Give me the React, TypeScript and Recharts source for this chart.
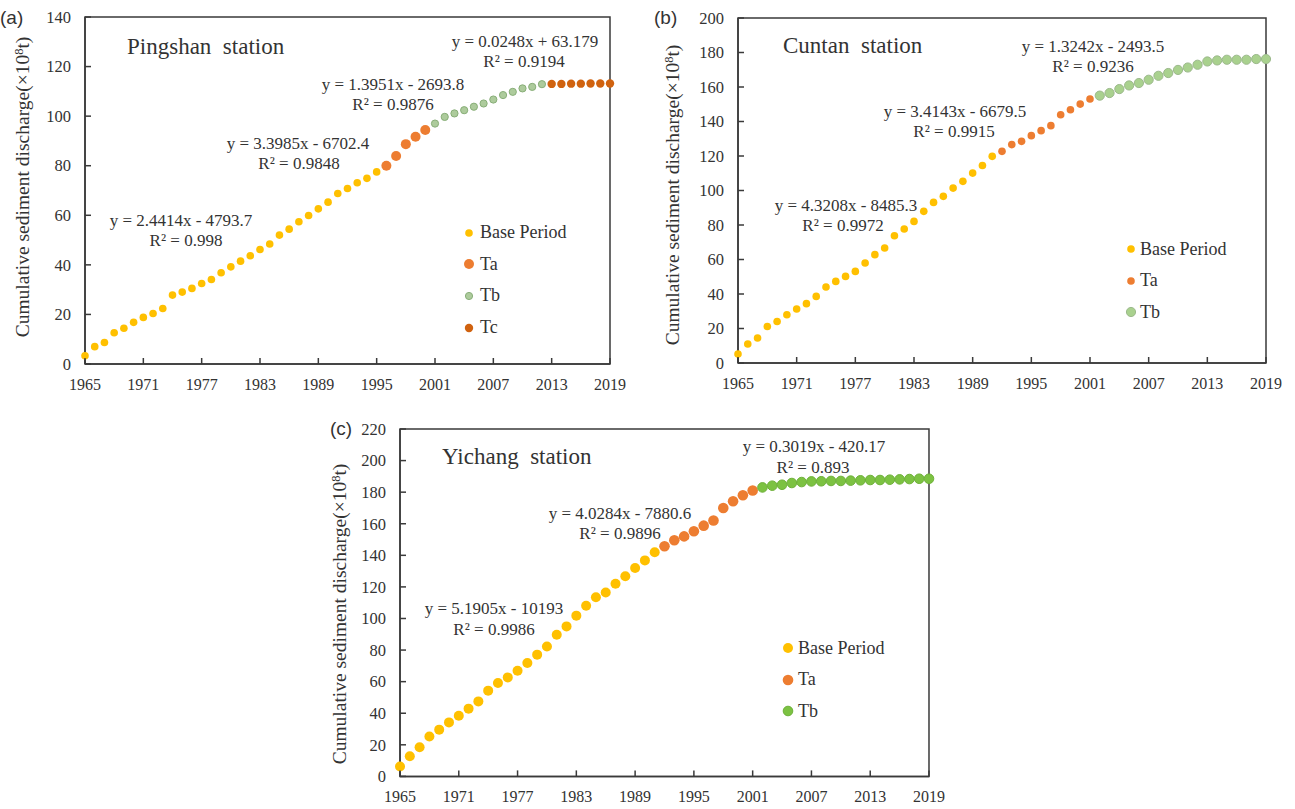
import React from 'react';
import { ScatterChart, Scatter, XAxis, YAxis, ReferenceArea, Legend } from 'recharts';

// years on the x axis
const xTicks = [1965, 1971, 1977, 1983, 1989, 1995, 2001, 2007, 2013, 2019];

// (a) Pingshan station, cumulative sediment discharge (x10^8 t)
const pingshanBase = [3.3, 7.0, 8.7, 12.6, 14.4, 16.8, 18.8, 20.4, 22.4, 27.8, 29.0, 30.5, 32.5, 34.1, 36.8, 39.2, 41.5, 43.7, 46.2, 48.4, 52.0, 54.4, 57.4, 59.9, 62.6, 65.3, 68.8, 70.8, 73.1, 74.9, 77.5]; // 1965-1995
const pingshanTa = [80.0, 83.9, 88.7, 91.7, 94.4]; // 1996-2000
const pingshanTb = [97.0, 99.7, 101.1, 102.4, 103.8, 105.1, 106.7, 108.5, 109.8, 111.2, 111.8, 112.9]; // 2001-2012
const pingshanTc = [113.0, 113.0, 113.1, 113.1, 113.2, 113.2, 113.2]; // 2013-2019
const pingshanYTicks = [0, 20, 40, 60, 80, 100, 120, 140];

// (b) Cuntan station
const cuntanBase = [5.2, 11.0, 14.5, 21.2, 24.1, 28.0, 31.3, 34.4, 38.6, 44.1, 47.3, 50.2, 53.1, 58.0, 62.8, 66.7, 73.8, 77.7, 82.1, 87.9, 93.1, 96.6, 101.4, 105.3, 110.1, 114.5, 119.8]; // 1965-1991
const cuntanTa = [122.7, 126.6, 128.5, 131.8, 134.7, 137.6, 143.9, 146.8, 150.1, 153.0]; // 1992-2001
const cuntanTb = [155.0, 156.5, 158.8, 160.9, 162.3, 164.2, 166.5, 168.1, 169.9, 171.3, 172.9, 174.8, 175.4, 175.8, 175.8, 175.8, 176.2, 176.2]; // 2002-2019
const cuntanYTicks = [0, 20, 40, 60, 80, 100, 120, 140, 160, 180, 200];

// (c) Yichang station
const yichangBase = [6.3, 12.7, 18.4, 25.3, 29.6, 34.2, 38.4, 42.9, 47.5, 54.3, 59.1, 62.7, 66.9, 71.8, 77.1, 82.3, 89.7, 95.0, 101.8, 108.1, 113.4, 116.5, 122.0, 126.7, 132.0, 136.8, 141.9]; // 1965-1991
const yichangTa = [145.7, 149.5, 152.0, 155.2, 158.8, 162.1, 170.0, 174.2, 178.0, 181.1]; // 1992-2001
const yichangTb = [183.0, 184.1, 184.7, 185.8, 186.4, 186.8, 186.9, 187.1, 187.1, 187.3, 187.5, 187.7, 187.7, 187.9, 188.1, 188.3, 188.5, 188.5]; // 2002-2019
const yichangYTicks = [0, 20, 40, 60, 80, 100, 120, 140, 160, 180, 200, 220];

const AXIS = '#3a3a3a';
const TEXT = '#333';
const SERIF = '"Liberation Serif", "Times New Roman", serif';

type Series = { name: string; start: number; values: number[]; fill: string; stroke?: string; r: number };

const toPoints = (start: number, values: number[]) => values.map((y, i) => ({ x: start + i, y }));

const XTick = (p: any) => {
  const axisY = p.y - 14;
  return (
    <g>
      <line x1={p.x} x2={p.x} y1={axisY} y2={axisY - 6} stroke={AXIS} strokeWidth={1.5} />
      <text x={p.x} y={p.y} dy="0.75em" textAnchor="middle" fontSize={16} fontFamily={SERIF} fill={TEXT}>
        {p.payload.value}
      </text>
    </g>
  );
};

const YTick = (p: any) => {
  const axisX = p.x + 14;
  return (
    <g>
      <line x1={axisX} x2={axisX + 6} y1={p.y} y2={p.y} stroke={AXIS} strokeWidth={1.5} />
      <text x={p.x} y={p.y} dy="0.35em" textAnchor="end" fontSize={16.5} fontFamily={SERIF} fill={TEXT}>
        {p.payload.value}
      </text>
    </g>
  );
};

interface PanelProps {
  plotLeft: number;
  plotTop: number;
  plotW: number;
  plotH: number;
  yMax: number;
  yTicks: number[];
  series: Series[];
  legendLeft: number;
  legendTop: number;
  legendGap: number;
}

function Panel({ plotLeft, plotTop, plotW, plotH, yMax, yTicks, series, legendLeft, legendTop, legendGap }: PanelProps) {
  const ml = 80, mt = 10, mr = 20, mb = 45;
  return (
    <div style={{ position: 'absolute', left: plotLeft - ml, top: plotTop - mt }}>
      <ScatterChart
        width={plotW + ml + mr}
        height={plotH + mt + mb}
        margin={{ left: ml - 40, top: mt, right: mr, bottom: mb - 30 }}
      >
        <ReferenceArea x1={1965} x2={2019} y1={0} y2={yMax} fill="none" stroke={AXIS} strokeWidth={1.5} />
        <XAxis
          type="number"
          dataKey="x"
          domain={[1965, 2019]}
          ticks={xTicks}
          interval={0}
          height={30}
          tickSize={0}
          tickMargin={14}
          tickLine={false}
          axisLine={{ stroke: AXIS, strokeWidth: 1.5 }}
          tick={(p: any) => <XTick {...p} />}
        />
        <YAxis
          type="number"
          dataKey="y"
          domain={[0, yMax]}
          ticks={yTicks}
          interval={0}
          width={40}
          tickSize={0}
          tickMargin={14}
          tickLine={false}
          axisLine={{ stroke: AXIS, strokeWidth: 1.5 }}
          tick={(p: any) => <YTick {...p} />}
        />
        {series.map((s) => (
          <Scatter
            key={s.name}
            name={s.name}
            data={toPoints(s.start, s.values)}
            isAnimationActive={false}
            shape={(p: any) => (
              <circle cx={p.cx} cy={p.cy} r={s.r} fill={s.fill} stroke={s.stroke || 'none'} strokeWidth={s.stroke ? 1 : 0} />
            )}
          />
        ))}
        <Legend
          layout="vertical"
          align="center"
          verticalAlign="middle"
          wrapperStyle={{ left: legendLeft, top: legendTop, width: 'auto', height: 'auto' }}
          content={() => (
            <div>
              {series.map((s) => (
                <div key={s.name} style={{ display: 'flex', alignItems: 'center', height: 31.6 }}>
                  <svg width={14} height={14}>
                    <circle cx={7} cy={7} r={s.r} fill={s.fill} stroke={s.stroke || 'none'} strokeWidth={s.stroke ? 1 : 0} />
                  </svg>
                  <span style={{ marginLeft: legendGap, fontFamily: SERIF, fontSize: 18, color: TEXT }}>{s.name}</span>
                </div>
              ))}
            </div>
          )}
        />
      </ScatterChart>
    </div>
  );
}

const pingshanSeries: Series[] = [
  { name: 'Base Period', start: 1965, values: pingshanBase, fill: '#FFC000', r: 3.8 },
  { name: 'Ta', start: 1996, values: pingshanTa, fill: '#ED7D31', r: 5 },
  { name: 'Tb', start: 2001, values: pingshanTb, fill: '#ADCB9C', stroke: '#88AE78', r: 3.6 },
  { name: 'Tc', start: 2013, values: pingshanTc, fill: '#D0620F', r: 4.2 },
];

const cuntanSeries: Series[] = [
  { name: 'Base Period', start: 1965, values: cuntanBase, fill: '#FFC000', r: 3.8 },
  { name: 'Ta', start: 1992, values: cuntanTa, fill: '#ED7D31', r: 3.8 },
  { name: 'Tb', start: 2002, values: cuntanTb, fill: '#A9D18E', stroke: '#9CB98C', r: 4.6 },
];

const yichangSeries: Series[] = [
  { name: 'Base Period', start: 1965, values: yichangBase, fill: '#FFC000', r: 5 },
  { name: 'Ta', start: 1992, values: yichangTa, fill: '#ED7D31', r: 5.3 },
  { name: 'Tb', start: 2002, values: yichangTb, fill: '#7CC242', stroke: '#6DB038', r: 4.8 },
];

const equations = [
  { x: 181, y: 226, t: 'y = 2.4414x - 4793.7' },
  { x: 186, y: 246, t: 'R² = 0.998' },
  { x: 298, y: 149, t: 'y = 3.3985x - 6702.4' },
  { x: 299, y: 169, t: 'R² = 0.9848' },
  { x: 393, y: 90, t: 'y = 1.3951x - 2693.8' },
  { x: 393, y: 110, t: 'R² = 0.9876' },
  { x: 525, y: 47, t: 'y = 0.0248x + 63.179' },
  { x: 524, y: 67, t: 'R² = 0.9194' },
  { x: 846, y: 211, t: 'y = 4.3208x - 8485.3' },
  { x: 843, y: 231, t: 'R² = 0.9972' },
  { x: 955, y: 117, t: 'y = 3.4143x - 6679.5' },
  { x: 954, y: 137, t: 'R² = 0.9915' },
  { x: 1093, y: 52, t: 'y = 1.3242x - 2493.5' },
  { x: 1093, y: 72, t: 'R² = 0.9236' },
  { x: 494, y: 614, t: 'y = 5.1905x - 10193' },
  { x: 494, y: 635, t: 'R² = 0.9986' },
  { x: 620, y: 519, t: 'y = 4.0284x - 7880.6' },
  { x: 620, y: 539, t: 'R² = 0.9896' },
  { x: 814, y: 452, t: 'y = 0.3019x - 420.17' },
  { x: 813, y: 473, t: 'R² = 0.893' },
];

const titles = [
  { x: 127, y: 54, t: 'Pingshan\u00a0 station' },
  { x: 783, y: 53, t: 'Cuntan\u00a0 station' },
  { x: 442, y: 464, t: 'Yichang\u00a0 station' },
];

const panelTags = [
  { x: 0, y: 24, t: '(a)' },
  { x: 654, y: 24, t: '(b)' },
  { x: 330, y: 435, t: '(c)' },
];

const yLabels = [
  { x: 29, y: 187 },
  { x: 679, y: 195 },
  { x: 346, y: 614 },
];

export default function App() {
  return (
    <div style={{ position: 'absolute', left: 0, top: 0, width: 1295, height: 809, background: '#fff', overflow: 'hidden' }}>
      <Panel plotLeft={85} plotTop={17} plotW={525} plotH={347} yMax={140} yTicks={pingshanYTicks}
        series={pingshanSeries} legendLeft={457} legendTop={210} legendGap={4} />
      <Panel plotLeft={738} plotTop={18.3} plotW={528} plotH={345} yMax={200} yTicks={cuntanYTicks}
        series={cuntanSeries} legendLeft={466} legendTop={225} legendGap={2} />
      <Panel plotLeft={400} plotTop={429.3} plotW={529} plotH={347.4} yMax={220} yTicks={yichangYTicks}
        series={yichangSeries} legendLeft={461} legendTop={213} legendGap={3} />
      <svg width={1295} height={809} style={{ position: 'absolute', left: 0, top: 0, pointerEvents: 'none' }}>
        {titles.map((t) => (
          <text key={t.t} x={t.x} y={t.y} fontFamily={SERIF} fontSize={23} fill={TEXT}>{t.t}</text>
        ))}
        {equations.map((e) => (
          <text key={e.t} x={e.x} y={e.y} textAnchor="middle" fontFamily={SERIF} fontSize={17} fill={TEXT}>{e.t}</text>
        ))}
        {panelTags.map((t) => (
          <text key={t.t} x={t.x} y={t.y} fontFamily='"Liberation Sans", Arial, sans-serif' fontSize={19} fill={TEXT}>{t.t}</text>
        ))}
        {yLabels.map((l, i) => (
          <text key={i} x={l.x} y={l.y} transform={`rotate(-90 ${l.x} ${l.y})`} textAnchor="middle"
            fontFamily={SERIF} fontSize={19.5} fill={TEXT}>
            Cumulative sediment discharge(×10<tspan dy={-6} fontSize={12.5}>8</tspan><tspan dy={6}>t)</tspan>
          </text>
        ))}
      </svg>
    </div>
  );
}
